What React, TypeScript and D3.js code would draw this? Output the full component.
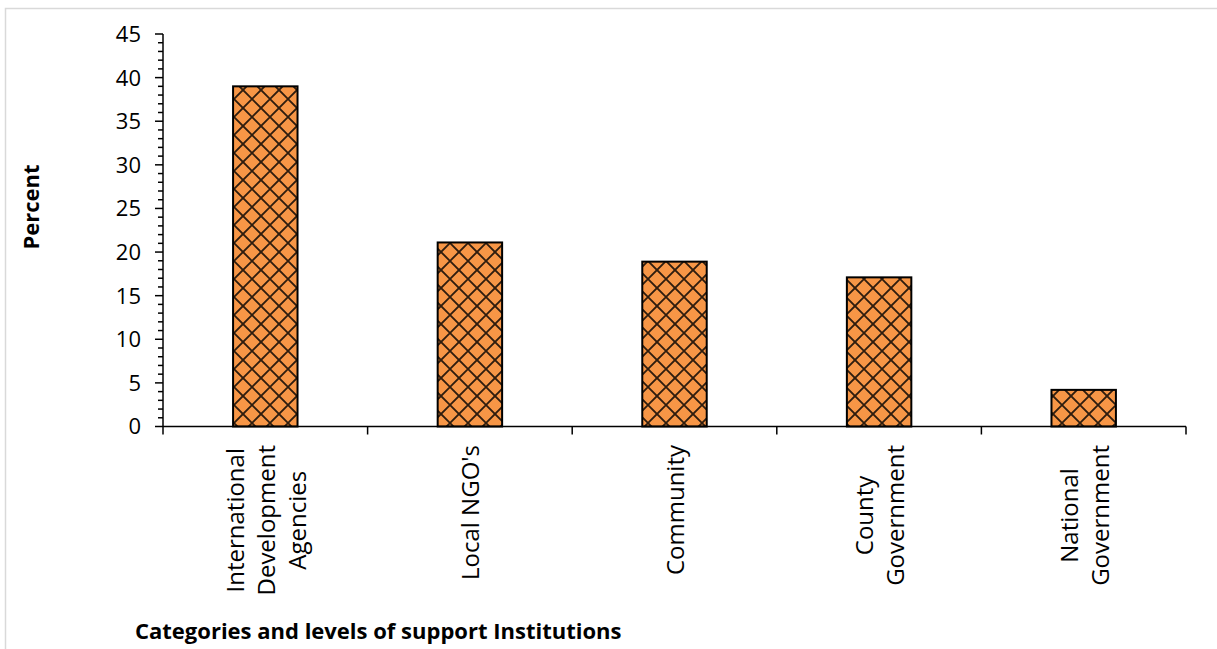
import React, { useEffect, useRef } from "react";
import * as d3 from "d3";

// Share of support by institution category (percent)
const categories: string[][] = [
  ["International", "Development", "Agencies"],
  ["Local NGO's"],
  ["Community"],
  ["County", "Government"],
  ["National", "Government"],
];
const percents: number[] = [39.0, 21.1, 18.9, 17.1, 4.2];
const yTicks: number[] = [0, 5, 10, 15, 20, 25, 30, 35, 40, 45];
const yTitle = "Percent";
const xTitle = "Categories and levels of support Institutions";

const W = 1217;
const H = 649;
const FONT = "'Open Sans', 'DejaVu Sans', sans-serif";

export default function App() {
  const ref = useRef<SVGSVGElement | null>(null);

  useEffect(() => {
    const svg = d3.select(ref.current);
    svg.selectAll("*").remove();

    const left = 163;
    const right = 1186;
    const top = 34;
    const bottom = 426.5;

    const x = d3
      .scaleBand<number>()
      .domain(d3.range(categories.length))
      .range([left, right])
      .paddingInner(0)
      .paddingOuter(0);
    const y = d3.scaleLinear().domain([0, 45]).range([bottom, top]);

    // cross-hatch fill
    const defs = svg.append("defs");
    const p = 18;
    const pat = defs
      .append("pattern")
      .attr("id", "hatch")
      .attr("patternUnits", "userSpaceOnUse")
      .attr("width", p)
      .attr("height", p)
      .attr("x", 0)
      .attr("y", 0);
    pat.append("rect").attr("width", p).attr("height", p).attr("fill", "#F79646");
    pat
      .append("path")
      .attr("d", `M-2,11L11,-2M7,20L20,7M-2,7L11,20M7,-2L20,11`)
      .attr("stroke", "#1a1008")
      .attr("stroke-opacity", 0.9)
      .attr("stroke-width", 1.9)
      .attr("fill", "none");

    // outer frame
    svg
      .append("rect")
      .attr("x", 5.5)
      .attr("y", 8.5)
      .attr("width", W + 20)
      .attr("height", H + 20)
      .attr("fill", "#fff")
      .attr("stroke", "#d9d9d9")
      .attr("stroke-width", 1.5);

    // bars
    const bw = x.bandwidth() * 0.315;
    svg
      .append("g")
      .selectAll("rect")
      .data(percents)
      .join("rect")
      .attr("x", (_, i) => (x(i) as number) + x.bandwidth() / 2 - bw / 2)
      .attr("y", (d) => y(d))
      .attr("width", bw)
      .attr("height", (d) => bottom - y(d))
      .attr("fill", "url(#hatch)")
      .attr("stroke", "#000")
      .attr("stroke-width", 2);

    // y axis with minor ticks
    const yAxis = svg.append("g").attr("stroke", "#000").attr("stroke-width", 1.5);
    yAxis
      .append("line")
      .attr("x1", left)
      .attr("x2", left)
      .attr("y1", top)
      .attr("y2", bottom);
    yAxis
      .selectAll("line.minor")
      .data(d3.range(0, 46, 1))
      .join("line")
      .attr("class", "minor")
      .attr("x1", (d) => (d % 5 === 0 ? left - 8 : left - 5))
      .attr("x2", left)
      .attr("y1", (d) => y(d))
      .attr("y2", (d) => y(d));

    svg
      .append("g")
      .selectAll("text")
      .data(yTicks)
      .join("text")
      .attr("x", 141)
      .attr("y", (d) => y(d))
      .attr("dy", "0.36em")
      .attr("text-anchor", "end")
      .attr("font-family", FONT)
      .attr("font-size", 22)
      .attr("fill", "#000")
      .text((d) => String(d));

    // x axis with category boundary ticks
    const xAxis = svg.append("g").attr("stroke", "#000").attr("stroke-width", 1.5);
    xAxis
      .append("line")
      .attr("x1", left)
      .attr("x2", right)
      .attr("y1", bottom)
      .attr("y2", bottom);
    xAxis
      .selectAll("line.tick")
      .data(d3.range(categories.length + 1))
      .join("line")
      .attr("class", "tick")
      .attr("x1", (i) => (i < categories.length ? (x(i) as number) : right))
      .attr("x2", (i) => (i < categories.length ? (x(i) as number) : right))
      .attr("y1", bottom)
      .attr("y2", bottom + 8);

    // category labels, rotated, multi-line centered, top-anchored below axis
    const labelTop = 445;
    const lineGap = 31;
    categories.forEach((lines, i) => {
      const cx = (x(i) as number) + x.bandwidth() / 2;
      const g = svg.append("g");
      const texts = lines.map((ln) =>
        g
          .append("text")
          .attr("font-family", FONT)
          .attr("font-size", 24)
          .attr("fill", "#000")
          .attr("text-anchor", "middle")
          .attr("dominant-baseline", "central")
          .text(ln)
      );
      const maxLen =
        d3.max(texts, (t) => (t.node() as SVGTextElement).getComputedTextLength()) || 0;
      const cy = labelTop + maxLen / 2;
      texts.forEach((t, j) => {
        const off = (j - (lines.length - 1) / 2) * lineGap;
        t.attr("transform", `translate(${cx + off},${cy}) rotate(-90)`);
      });
    });

    // axis titles
    svg
      .append("text")
      .attr("transform", `translate(30,207) rotate(-90)`)
      .attr("text-anchor", "middle")
      .attr("dominant-baseline", "central")
      .attr("font-family", FONT)
      .attr("font-weight", "bold")
      .attr("font-size", 22)
      .attr("fill", "#000")
      .text(yTitle);

    svg
      .append("text")
      .attr("x", 135)
      .attr("y", 639)
      .attr("font-family", FONT)
      .attr("font-weight", "bold")
      .attr("font-size", 22)
      .attr("fill", "#000")
      .text(xTitle);
  }, []);

  return (
    <svg
      ref={ref}
      width={W}
      height={H}
      style={{ position: "fixed", left: 0, top: 0, background: "#fff" }}
    />
  );
}
